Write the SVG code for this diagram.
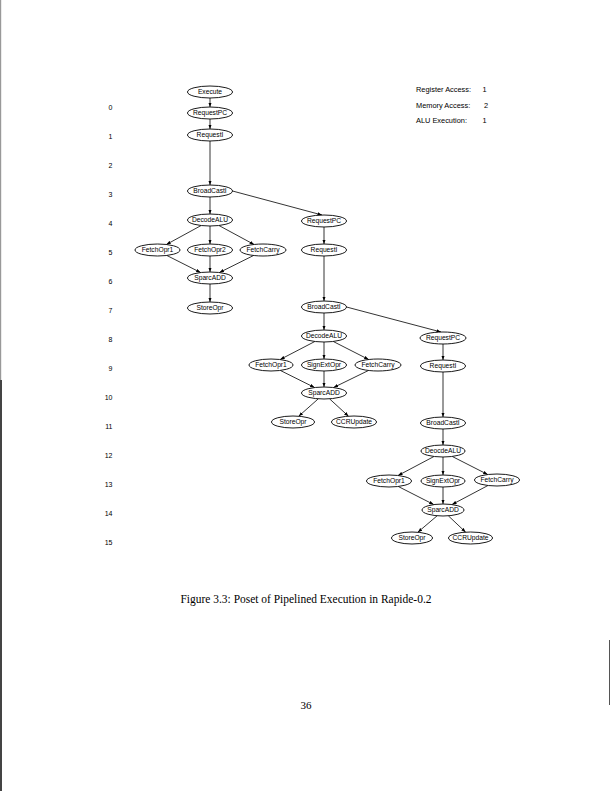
<svg xmlns="http://www.w3.org/2000/svg" width="612" height="791" viewBox="0 0 612 791">
<style>
  .node ellipse { fill: #fff; stroke: #000; stroke-width: 0.9; }
  .node text { font-family: "Liberation Sans", Arial, sans-serif; font-size: 6.7px; text-anchor: middle; fill: #000; }
  .edges line { stroke: #000; stroke-width: 0.8; marker-end: url(#arr); }
  .row { font-family: "Liberation Sans", Arial, sans-serif; font-size: 7px; text-anchor: end; fill: #000; }
  .legend { font-family: "Liberation Sans", Arial, sans-serif; font-size: 7.4px; fill: #000; }
  .serif { font-family: "Liberation Serif", "Times New Roman", serif; fill: #000; text-anchor: middle; }
</style>
<defs>
  <marker id="arr" markerUnits="userSpaceOnUse" markerWidth="5" markerHeight="4" refX="4.5" refY="1.7" orient="auto">
    <path d="M0,0 L4.5,1.7 L0,3.4 z" fill="#000"/>
  </marker>
</defs>
<rect width="612" height="791" fill="#fff"/>

<g id="scan-edges">
  <rect x="0" y="0" width="1.2" height="791" fill="#999"/>
  <rect x="0" y="380" width="2" height="411" fill="#444"/>
  <rect x="609" y="640" width="1" height="65" fill="#555"/>
</g>

<g id="row-labels">
  <text class="row" x="112.5" y="109.5">0</text>
  <text class="row" x="112.5" y="138.5">1</text>
  <text class="row" x="112.5" y="167.5">2</text>
  <text class="row" x="112.5" y="196.5">3</text>
  <text class="row" x="112.5" y="225.5">4</text>
  <text class="row" x="112.5" y="254.5">5</text>
  <text class="row" x="112.5" y="283.5">6</text>
  <text class="row" x="112.5" y="312.5">7</text>
  <text class="row" x="112.5" y="341.5">8</text>
  <text class="row" x="112.5" y="370.5">9</text>
  <text class="row" x="112.5" y="399.5">10</text>
  <text class="row" x="112.5" y="428.5">11</text>
  <text class="row" x="112.5" y="457.5">12</text>
  <text class="row" x="112.5" y="486.5">13</text>
  <text class="row" x="112.5" y="515.5">14</text>
  <text class="row" x="112.5" y="544.5">15</text>
</g>

<g id="legend">
  <text class="legend" x="416" y="91.7">Register Access:</text>
  <text class="legend" x="484.5" y="91.7" text-anchor="middle">1</text>
  <text class="legend" x="416" y="107.7">Memory Access:</text>
  <text class="legend" x="486" y="107.7" text-anchor="middle">2</text>
  <text class="legend" x="416" y="122.7">ALU Execution:</text>
  <text class="legend" x="484.5" y="122.7" text-anchor="middle">1</text>
</g>

<g class="edges" id="connectors">
  <!-- column 1 -->
  <line x1="210" y1="98" x2="210" y2="107"/>
  <line x1="210" y1="119" x2="210" y2="129"/>
  <line x1="210" y1="141" x2="210" y2="185"/>
  <line x1="210" y1="197" x2="210" y2="214"/>
  <line x1="232.5" y1="191" x2="322" y2="215"/>
  <line x1="201.15" y1="225.5" x2="166.35" y2="244.5"/>
  <line x1="210" y1="226" x2="210" y2="244"/>
  <line x1="218.92" y1="225.5" x2="254.08" y2="244.5"/>
  <line x1="166.9" y1="255.5" x2="200.6" y2="272.5"/>
  <line x1="210" y1="256" x2="210" y2="272"/>
  <line x1="253.55" y1="255.5" x2="219.45" y2="272.5"/>
  <line x1="210" y1="284" x2="210" y2="302"/>
  <!-- column 2 -->
  <line x1="324" y1="227" x2="324" y2="244"/>
  <line x1="324" y1="256" x2="324" y2="301"/>
  <line x1="324" y1="313" x2="324" y2="330"/>
  <line x1="346.5" y1="307" x2="441" y2="332"/>
  <line x1="314.82" y1="341.5" x2="280.18" y2="359.5"/>
  <line x1="324" y1="342" x2="324" y2="359"/>
  <line x1="333.32" y1="341.5" x2="368.68" y2="359.5"/>
  <line x1="280.45" y1="370.5" x2="314.55" y2="387.5"/>
  <line x1="324" y1="371" x2="324" y2="387"/>
  <line x1="368.41" y1="370.5" x2="333.59" y2="387.5"/>
  <line x1="318.31" y1="398.8" x2="298.69" y2="416.2"/>
  <line x1="329.52" y1="398.8" x2="348.48" y2="416.2"/>
  <!-- column 3 -->
  <line x1="443" y1="344" x2="443" y2="360"/>
  <line x1="443" y1="372" x2="443" y2="417"/>
  <line x1="443" y1="429" x2="443" y2="445"/>
  <line x1="433.94" y1="456.5" x2="398.06" y2="475.5"/>
  <line x1="443" y1="457" x2="443" y2="475"/>
  <line x1="452.32" y1="456.5" x2="487.68" y2="474.5"/>
  <line x1="398.32" y1="486.5" x2="433.68" y2="504.5"/>
  <line x1="443" y1="487" x2="443" y2="504"/>
  <line x1="487.94" y1="485.5" x2="452.06" y2="504.5"/>
  <line x1="437.12" y1="515.8" x2="417.88" y2="532.2"/>
  <line x1="448.34" y1="515.8" x2="465.66" y2="532.2"/>
</g>

<!-- column 1 nodes -->
<g class="node" id="c1-execute"><ellipse cx="210" cy="92" rx="22.5" ry="6"/><text x="210" y="94.4">Execute</text></g>
<g class="node" id="c1-requestpc"><ellipse cx="210" cy="113" rx="22.5" ry="6"/><text x="210" y="115.4">RequestPC</text></g>
<g class="node" id="c1-requesti"><ellipse cx="210" cy="135" rx="22.5" ry="6"/><text x="210" y="137.4">RequestI</text></g>
<g class="node" id="c1-broadcasti"><ellipse cx="210" cy="191" rx="22.5" ry="6"/><text x="210" y="193.4">BroadCastI</text></g>
<g class="node" id="c1-decodealu"><ellipse cx="210" cy="220" rx="22.5" ry="6"/><text x="210" y="222.4">DecodeALU</text></g>
<g class="node" id="c1-fetchopr1"><ellipse cx="157.5" cy="250" rx="22.5" ry="6"/><text x="157.5" y="252.4">FetchOpr1</text></g>
<g class="node" id="c1-fetchopr2"><ellipse cx="210" cy="250" rx="22.5" ry="6"/><text x="210" y="252.4">FetchOpr2</text></g>
<g class="node" id="c1-fetchcarry"><ellipse cx="263" cy="250" rx="23" ry="6"/><text x="263" y="252.4">FetchCarry</text></g>
<g class="node" id="c1-sparcadd"><ellipse cx="210" cy="278" rx="22.5" ry="6"/><text x="210" y="280.4">SparcADD</text></g>
<g class="node" id="c1-storeopr"><ellipse cx="210" cy="308" rx="22.5" ry="6"/><text x="210" y="310.4">StoreOpr</text></g>

<!-- column 2 nodes -->
<g class="node" id="c2-requestpc"><ellipse cx="324" cy="221" rx="22.5" ry="6"/><text x="324" y="223.4">RequestPC</text></g>
<g class="node" id="c2-requesti"><ellipse cx="324" cy="250" rx="22.5" ry="6"/><text x="324" y="252.4">RequestI</text></g>
<g class="node" id="c2-broadcasti"><ellipse cx="324" cy="307" rx="22.5" ry="6"/><text x="324" y="309.4">BroadCastI</text></g>
<g class="node" id="c2-decodealu"><ellipse cx="324" cy="336" rx="22.5" ry="6"/><text x="324" y="338.4">DecodeALU</text></g>
<g class="node" id="c2-fetchopr1"><ellipse cx="271" cy="365" rx="22" ry="6"/><text x="271" y="367.4">FetchOpr1</text></g>
<g class="node" id="c2-signextopr"><ellipse cx="324" cy="365" rx="22.5" ry="6"/><text x="324" y="367.4">SignExtOpr</text></g>
<g class="node" id="c2-fetchcarry"><ellipse cx="378" cy="365" rx="23" ry="6"/><text x="378" y="367.4">FetchCarry</text></g>
<g class="node" id="c2-sparcadd"><ellipse cx="324" cy="393" rx="22.5" ry="6"/><text x="324" y="395.4">SparcADD</text></g>
<g class="node" id="c2-storeopr"><ellipse cx="293" cy="422" rx="21.5" ry="6"/><text x="293" y="424.4">StoreOpr</text></g>
<g class="node" id="c2-ccrupdate"><ellipse cx="354" cy="422" rx="22.5" ry="6"/><text x="354" y="424.4">CCRUpdate</text></g>

<!-- column 3 nodes -->
<g class="node" id="c3-requestpc"><ellipse cx="443" cy="338" rx="23" ry="6"/><text x="443" y="340.4">RequestPC</text></g>
<g class="node" id="c3-requesti"><ellipse cx="443" cy="366" rx="22.5" ry="6"/><text x="443" y="368.4">RequestI</text></g>
<g class="node" id="c3-broadcasti"><ellipse cx="443" cy="423" rx="22.5" ry="6"/><text x="443" y="425.4">BroadCastI</text></g>
<g class="node" id="c3-deocdealu"><ellipse cx="443" cy="451" rx="22" ry="6"/><text x="443" y="453.4">DeocdeALU</text></g>
<g class="node" id="c3-fetchopr1"><ellipse cx="389" cy="481" rx="22.5" ry="6"/><text x="389" y="483.4">FetchOpr1</text></g>
<g class="node" id="c3-signextopr"><ellipse cx="443" cy="481" rx="22" ry="6"/><text x="443" y="483.4">SignExtOpr</text></g>
<g class="node" id="c3-fetchcarry"><ellipse cx="497" cy="480" rx="22.5" ry="6"/><text x="497" y="482.4">FetchCarry</text></g>
<g class="node" id="c3-sparcadd"><ellipse cx="443" cy="510" rx="21" ry="6"/><text x="443" y="512.4">SparcADD</text></g>
<g class="node" id="c3-storeopr"><ellipse cx="412" cy="538" rx="20.5" ry="6"/><text x="412" y="540.4">StoreOpr</text></g>
<g class="node" id="c3-ccrupdate"><ellipse cx="470.5" cy="538" rx="22" ry="6"/><text x="470.5" y="540.4">CCRUpdate</text></g>

<text class="serif" x="306" y="602.5" font-size="11.5" textLength="251" lengthAdjust="spacingAndGlyphs">Figure 3.3: Poset of Pipelined Execution in Rapide-0.2</text>
<text class="serif" x="306" y="709" font-size="11">36</text>
</svg>
